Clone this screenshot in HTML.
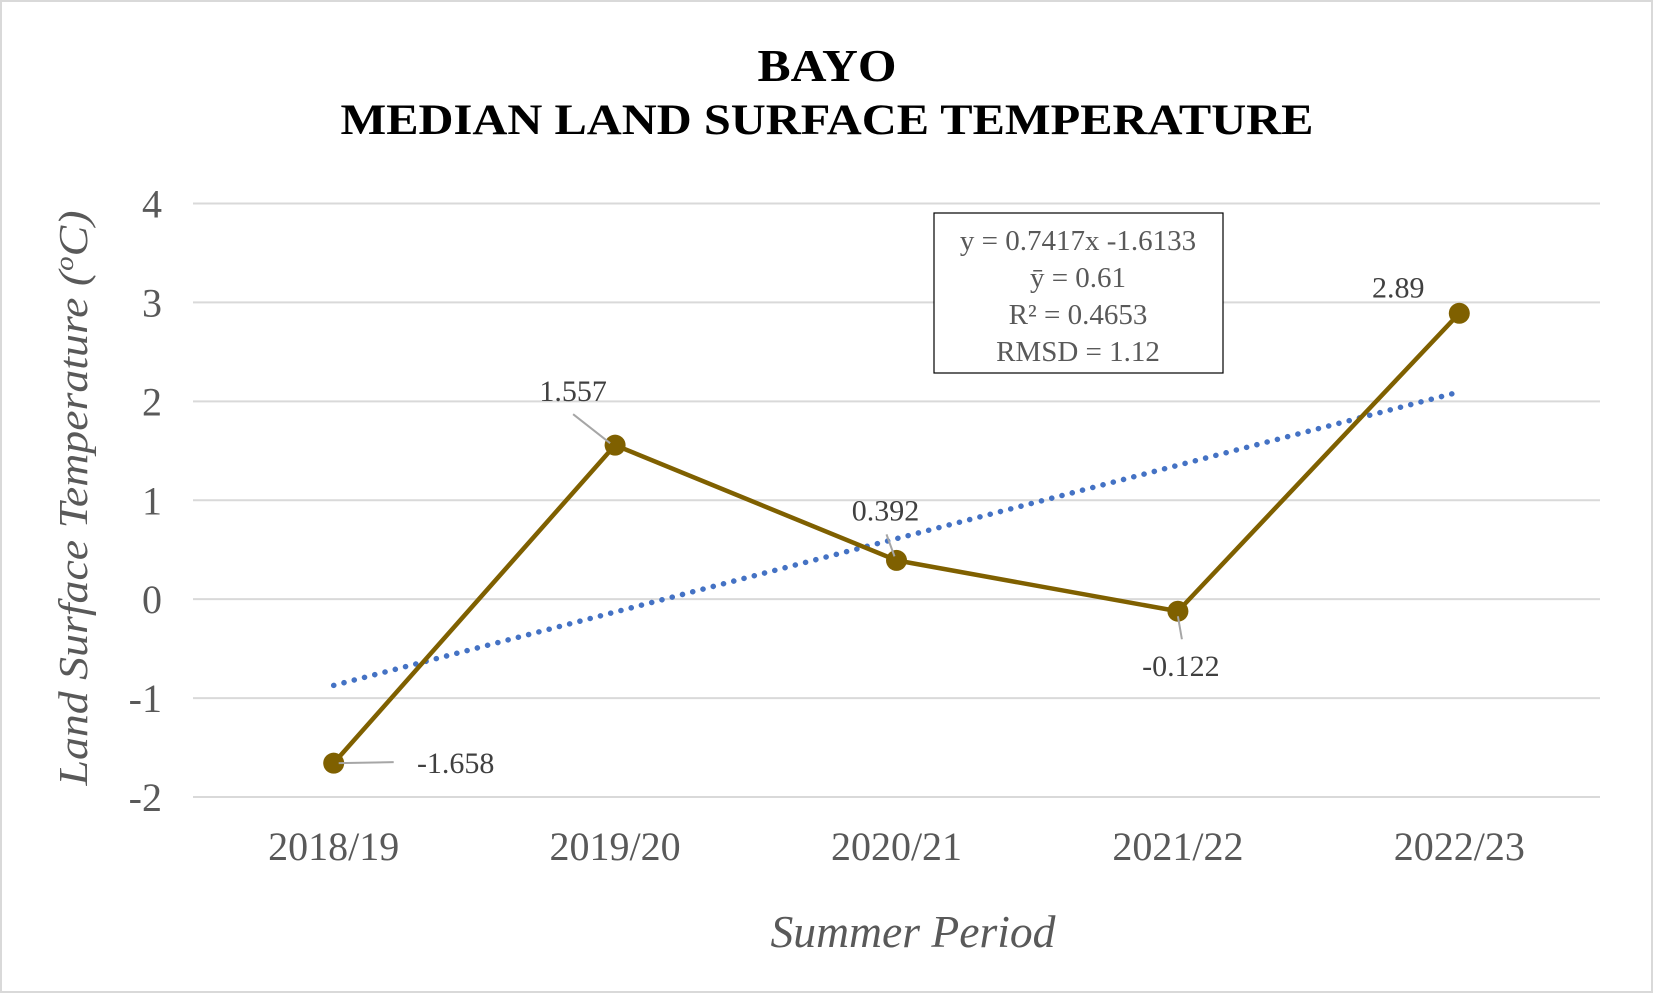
<!DOCTYPE html>
<html><head><meta charset="utf-8"><style>
html,body{margin:0;padding:0;background:#fff;}
svg{display:block;font-family:"Liberation Serif",serif;}
</style></head><body>
<svg id="chart" width="1653" height="993" viewBox="0 0 1653 993">
<rect x="1" y="1" width="1651" height="991" fill="#fff" stroke="#d9d9d9" stroke-width="2"/>
<text x="827" y="81" text-anchor="middle" font-size="46" font-weight="bold" fill="#000" textLength="139" lengthAdjust="spacingAndGlyphs">BAYO</text>
<text x="827" y="134" text-anchor="middle" font-size="43" font-weight="bold" fill="#000" textLength="973" lengthAdjust="spacingAndGlyphs">MEDIAN LAND SURFACE TEMPERATURE</text>
<g id="grid"></g>
<g id="yticks"></g>
<g id="xticks"></g>
<text transform="translate(87,498) rotate(-90)" text-anchor="middle" font-size="41" font-style="italic" fill="#595959" textLength="575" lengthAdjust="spacingAndGlyphs">Land Surface Temperature (<tspan baseline-shift="super" font-size="26">o</tspan>C)</text>
<text x="913" y="947" text-anchor="middle" font-size="45" font-style="italic" fill="#595959" textLength="285" lengthAdjust="spacingAndGlyphs">Summer Period</text>
<g id="trend"></g>
<g id="series"></g>
<g id="labels"></g>
<g>
<rect x="934" y="213" width="289" height="160" fill="#fff" stroke="#000" stroke-width="1.2"/>
<text x="1078" y="250" text-anchor="middle" font-size="29" fill="#595959">y = 0.7417x -1.6133</text>
<text x="1078" y="287" text-anchor="middle" font-size="29" fill="#595959">ȳ = 0.61</text>
<text x="1078" y="324" text-anchor="middle" font-size="29" fill="#595959">R² = 0.4653</text>
<text x="1078" y="361" text-anchor="middle" font-size="29" fill="#595959">RMSD = 1.12</text>
</g>
</svg>
<script>
const categories = ["2018/19","2019/20","2020/21","2021/22","2022/23"];
const values = [-1.658, 1.557, 0.392, -0.122, 2.89];
const dataLabels = ["-1.658","1.557","0.392","-0.122","2.89"];
const yTicks = [4,3,2,1,0,-1,-2];
const yTickLabels = ["4","3","2","1","0","-1","-2"];

const NS="http://www.w3.org/2000/svg";
const PL=193, PW=1407, PT=203.5, PB=797, YMAX=4, YMIN=-2;
const band=PW/categories.length;
function xs(i){return PL+band*(i+0.5);}
function ys(v){return PT+(YMAX-v)/(YMAX-YMIN)*(PB-PT);}
function mk(tag,attrs,parent){const e=document.createElementNS(NS,tag);for(const k in attrs)e.setAttribute(k,attrs[k]);parent.appendChild(e);return e;}

const grid=document.getElementById('grid'), yt=document.getElementById('yticks'), xt=document.getElementById('xticks');
yTicks.forEach((t,i)=>{
  const l=mk('line',{x1:PL,x2:PL+PW,y1:ys(t),y2:ys(t),stroke:'#d9d9d9','stroke-width':2},grid);
  
  
  const tx=mk('text',{x:162,y:ys(t)+14,'text-anchor':'end','font-size':40,fill:'#595959'},yt);
  tx.textContent=yTickLabels[i];
  
  
});
categories.forEach((c,i)=>{
  const tx=mk('text',{x:xs(i),y:860,'text-anchor':'middle','font-size':40,fill:'#595959'},xt);
  tx.textContent=c;
  
  
});

const n=values.length; let sx=0,sy=0,sxy=0,sxx=0;
values.forEach((v,i)=>{const x=i+1;sx+=x;sy+=v;sxy+=x*v;sxx+=x*x;});
const slope=(n*sxy-sx*sy)/(n*sxx-sx*sx), icpt=(sy-slope*sx)/n;
const tr=mk('line',{x1:xs(0),y1:ys(slope*1+icpt),x2:xs(n-1),y2:ys(slope*n+icpt),stroke:'#4472c4','stroke-width':5.5,'stroke-linecap':'round','stroke-dasharray':'0.1 10.5'},document.getElementById('trend'));



const ser=document.getElementById('series');
const pl=mk('polyline',{points:values.map((v,i)=>xs(i)+','+ys(v)).join(' '),fill:'none',stroke:'#7f6000','stroke-width':4.5,'stroke-linejoin':'round'},ser);



// label offsets relative to point (styling), and leader segments
const off=[[122,0],[-42,-54],[-11,-50],[3,55],[-61,-26]];
const leaders=[[5,0,60,-1],[-42,-31,-5,-2],[-10,-26,-2,-4],[0,5,4,28],null];
const lab=document.getElementById('labels');
values.forEach((v,i)=>{
  const x=xs(i), y=ys(v), o=off[i], ld=leaders[i];
  if(ld){const l=mk('line',{x1:x+ld[0],y1:y+ld[1],x2:x+ld[2],y2:y+ld[3],stroke:'#a6a6a6','stroke-width':2},lab);
    
    }
  const t=mk('text',{x:x+o[0],y:y+o[1]+10,'text-anchor':'middle','font-size':30,fill:'#404040'},lab);
  t.textContent=dataLabels[i];
  
  
  const c=mk('circle',{cx:x,cy:y,r:10.5,fill:'#7f6000'},ser);
  
  
});
</script>
</body></html>
